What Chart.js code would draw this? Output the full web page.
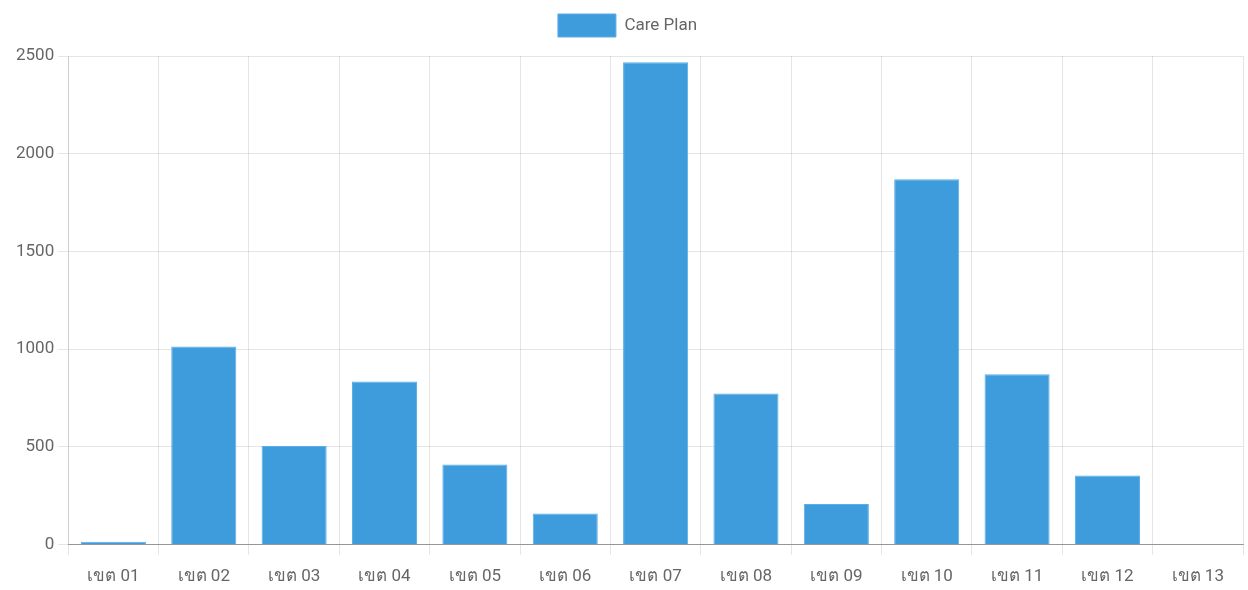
<!DOCTYPE html>
<html lang="th">
<head>
    <meta charset="UTF-8">
    <title>Care Plan</title>
    <script src="https://cdn.jsdelivr.net/npm/chart.js"></script>
    <style>
        html, body { margin: 0; padding: 0; background: #fff; }
        #wrap { width: 1248px; height: 590px; }
    </style>
</head>
<body>
    <div id="wrap"><canvas id="careplan-chart" width="1248" height="590"></canvas></div>

    <script>
        const zones = ['เขต 01', 'เขต 02', 'เขต 03', 'เขต 04', 'เขต 05', 'เขต 06', 'เขต 07',
                       'เขต 08', 'เขต 09', 'เขต 10', 'เขต 11', 'เขต 12', 'เขต 13'];
        const carePlan = [15, 1014, 505, 835, 410, 159, 2468, 773, 208, 1870, 871, 353, 0];

        Chart.defaults.font.family = 'Roboto, "Noto Sans", sans-serif';
        Chart.defaults.font.size = 17;
        Chart.defaults.color = '#666';

        // a bit more room under the legend
        const legendGap = {
            id: 'legendGap',
            beforeInit(chart) {
                const fit = chart.legend.fit;
                chart.legend.fit = function () {
                    fit.bind(chart.legend)();
                    this.height += 9;
                };
            }
        };

        const ctx = document.getElementById('careplan-chart').getContext('2d');
        new Chart(ctx, {
            type: 'bar',
            data: {
                labels: zones,
                datasets: [{
                    label: 'Care Plan',
                    data: carePlan,
                    backgroundColor: '#3e9cdc',
                    borderColor: '#5aaee6',
                    borderWidth: 1
                }]
            },
            plugins: [legendGap],
            options: {
                responsive: false,
                animation: false,
                layout: { padding: { left: 12, right: 5, top: 0, bottom: -9 } },
                plugins: {
                    legend: {
                        labels: { boxWidth: 58, boxHeight: 23, padding: 14 }
                    },
                    tooltip: { enabled: false }
                },
                scales: {
                    x: {
                        grid: { color: 'rgba(0,0,0,0.1)', offset: true, tickLength: 10 },
                        border: { color: 'rgba(0,0,0,0.35)' },
                        ticks: { padding: 12 }
                    },
                    y: {
                        min: 0,
                        max: 2500,
                        ticks: { stepSize: 500, padding: 4, callback: v => String(v) },
                        grid: { color: 'rgba(0,0,0,0.1)', tickLength: 10 },
                        border: { color: 'rgba(0,0,0,0.1)' }
                    }
                }
            }
        });
    </script>
</body>
</html>
